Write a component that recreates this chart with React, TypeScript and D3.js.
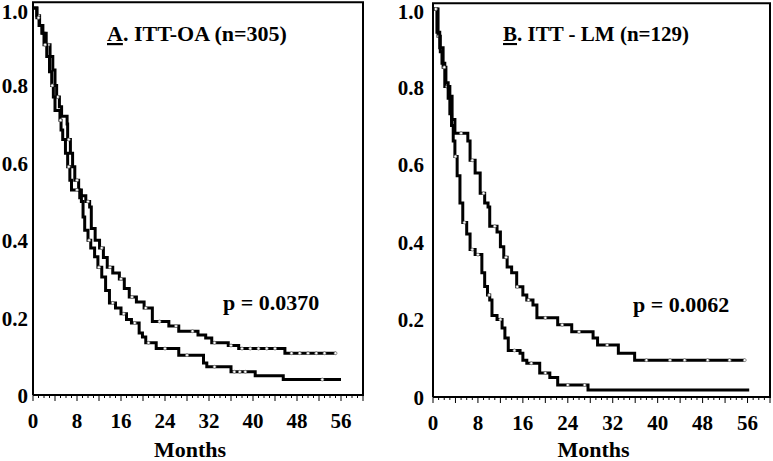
import React from 'react';
import * as d3 from 'd3';

// Kaplan-Meier step points [month, survival]
const oaUpper: [number, number][] = [
  [0, 1.0], [0.7, 0.98], [1.2, 0.955], [1.8, 0.935], [2.4, 0.905], [3.1, 0.875], [3.6, 0.84],
  [4.0, 0.8], [4.3, 0.77], [4.8, 0.745], [5.2, 0.72], [6.2, 0.7], [6.3, 0.66], [6.8, 0.625],
  [7.2, 0.59], [7.6, 0.555], [8.3, 0.53], [8.8, 0.515], [9.6, 0.5], [10.3, 0.486], [10.6, 0.43],
  [11.3, 0.4], [12.1, 0.38], [12.8, 0.355], [13.5, 0.33], [14.5, 0.315], [15.7, 0.3],
  [16.6, 0.275], [17.5, 0.253], [18.8, 0.24], [20.2, 0.225], [21.7, 0.19], [24.7, 0.178],
  [26.5, 0.165], [30, 0.155], [31.4, 0.147], [32.5, 0.135], [35.5, 0.128], [37.4, 0.12],
  [45.8, 0.108], [55.1, 0.108],
];
const oaLower: [number, number][] = [
  [0, 1.0], [0.7, 0.975], [1.1, 0.955], [1.6, 0.935], [2.0, 0.905], [2.5, 0.875], [3.0, 0.835],
  [3.4, 0.8], [3.7, 0.77], [4.0, 0.735], [4.9, 0.71], [5.1, 0.685], [5.4, 0.66], [5.9, 0.625],
  [6.3, 0.59], [6.7, 0.555], [7.0, 0.53], [8.5, 0.51], [8.8, 0.5], [9.1, 0.46], [9.4, 0.426],
  [10.0, 0.4], [10.5, 0.38], [11.2, 0.357], [11.8, 0.33], [12.5, 0.305], [13.2, 0.27],
  [13.9, 0.238], [15.0, 0.225], [16.0, 0.21], [17.0, 0.195], [17.9, 0.186], [19.3, 0.16],
  [19.9, 0.15], [20.5, 0.135], [22.4, 0.12], [26.5, 0.103], [31, 0.083], [31.6, 0.073],
  [36, 0.06], [40.4, 0.05], [45.5, 0.04], [56, 0.04],
];
const lmUpper: [number, number][] = [
  [0, 1.0], [0.9, 0.93], [1.3, 0.89], [1.6, 0.86], [2.1, 0.8], [3.0, 0.775], [3.4, 0.715],
  [3.9, 0.68], [6.2, 0.66], [6.6, 0.61], [7.5, 0.577], [8.4, 0.525], [9.2, 0.5], [9.8, 0.49],
  [10.1, 0.44], [11.4, 0.425], [12, 0.387], [12.6, 0.36], [13.2, 0.335], [14, 0.32],
  [14.9, 0.284], [16, 0.263], [16.7, 0.25], [17.8, 0.237], [18.5, 0.204], [22.2, 0.186],
  [24.7, 0.168], [28.5, 0.152], [29.3, 0.134], [33, 0.113], [35.9, 0.095], [55.5, 0.095],
];
const lmLower: [number, number][] = [
  [0, 1.0], [0.7, 0.94], [1.2, 0.9], [1.8, 0.85], [2.3, 0.81], [2.7, 0.77], [3.0, 0.73],
  [3.3, 0.7], [3.6, 0.66], [3.9, 0.62], [4.3, 0.57], [4.8, 0.5], [5.3, 0.45], [6.0, 0.42],
  [6.6, 0.38], [7.5, 0.367], [8.7, 0.32], [9.2, 0.285], [9.7, 0.263], [10.1, 0.25],
  [10.5, 0.21], [11.4, 0.2], [12.3, 0.178], [12.8, 0.152], [13.4, 0.12], [15.5, 0.113],
  [16, 0.095], [16.7, 0.087], [19, 0.062], [20.8, 0.05], [22.2, 0.031], [27.6, 0.018],
  [56.3, 0.018],
];

// censoring marks (months)
const oaUpperCensor = [1, 2.8, 4.5, 6.5, 8, 10, 12.5, 14, 16, 18, 20.5, 23, 26, 29, 33, 36, 38, 39.5, 41, 42.5, 44, 47, 48.5, 50, 51.5, 53, 55];
const oaLowerCensor = [1, 2.2, 3.5, 5, 6.5, 8, 10.2, 12, 14.5, 16.5, 18.5, 21, 24, 28, 33, 36.6, 37.6, 38.6, 52.6];
const lmUpperCensor = [1, 2.5, 5, 7, 9, 11, 13, 15, 17, 20, 23, 26, 31, 38, 42.2, 44.8, 48.9, 52.8, 55.5];
const lmLowerCensor = [0.5, 2, 4, 5.6, 7, 8, 10, 12, 14.5, 17.5, 20, 24, 27];

const xTicks = [0, 8, 16, 24, 32, 40, 48, 56];
const yTicks = [0, 0.2, 0.4, 0.6, 0.8, 1.0];

const FONT = '"Liberation Serif", "Times New Roman", serif';

function stepValue(data: [number, number][], t: number) {
  let v = data[0][1];
  for (const [m, s] of data) if (m <= t) v = s;
  return v;
}

function Panel({ left, right, zeroY, oneY, labelGap, letter, title, titleX, titleSize, pText, pX, pY, series }) {
  const x = d3.scaleLinear().domain([0, 60]).range([left, right]);
  const y = d3.scaleLinear().domain([0, 1]).range([zeroY, oneY]);
  const top = y(1.015);
  const line = d3
    .line<[number, number]>()
    .x(d => x(d[0]))
    .y(d => y(d[1]))
    .curve(d3.curveStepAfter);
  const minor = d3.range(0, 61, 1);

  return (
    <g fontFamily={FONT} fontWeight="bold" fill="#000">
      {series.map((s, i) => (
        <g key={i}>
          <path d={line(s.data) || ''} fill="none" stroke="#000" strokeWidth={3} />
          {s.censor.map((t, j) => (
            <circle key={j} cx={x(t)} cy={y(stepValue(s.data, t))} r={1.5} fill="#fff" stroke="#666" strokeWidth={0.7} />
          ))}
        </g>
      ))}
      <path
        d={`M${x(0)},${zeroY}V${top}H${x(60)}V${zeroY}H${x(0)}`}
        fill="none"
        stroke="#000"
        strokeWidth={2}
      />
      {minor.map(m => (
        <line key={m} x1={x(m)} x2={x(m)} y1={zeroY} y2={zeroY + (m % 4 === 0 ? 6 : 3)} stroke="#000" strokeWidth={1} />
      ))}
      {xTicks.map(t => (
        <text key={t} x={x(t)} y={zeroY + 33} fontSize={21} textAnchor="middle">
          {t}
        </text>
      ))}
      {yTicks.map(t => (
        <text key={t} x={left - labelGap} y={Math.max(y(t) + 8, 19)} fontSize={21} textAnchor="end">
          {t === 0 ? '0' : d3.format('.1f')(t)}
        </text>
      ))}
      <text x={(x(0) + x(60)) / 2 - 8} y={457} fontSize={22} textAnchor="middle">
        Months
      </text>
      <text x={titleX} y={41} fontSize={titleSize}>
        <tspan style={{ textDecoration: 'underline' }}>{letter}</tspan>
        {title}
      </text>
      <text x={pX} y={pY} fontSize={22}>
        {pText}
      </text>
    </g>
  );
}

export default function App() {
  return (
    <svg width={773} height={461} style={{ position: 'absolute', left: 0, top: 0, background: '#fff' }}>
      <Panel
        left={33}
        right={363}
        zeroY={395}
        oneY={8}
        labelGap={5}
        letter="A"
        title=". ITT-OA (n=305)"
        titleX={107}
        titleSize={22}
        pText="p = 0.0370"
        pX={223}
        pY={310}
        series={[
          { data: oaUpper, censor: oaUpperCensor },
          { data: oaLower, censor: oaLowerCensor },
        ]}
      />
      <Panel
        left={433}
        right={770}
        zeroY={397}
        oneY={9}
        labelGap={9}
        letter="B"
        title=". ITT - LM (n=129)"
        titleX={503}
        titleSize={21}
        pText="p = 0.0062"
        pX={633}
        pY={312}
        series={[
          { data: lmUpper, censor: lmUpperCensor },
          { data: lmLower, censor: lmLowerCensor },
        ]}
      />
    </svg>
  );
}
